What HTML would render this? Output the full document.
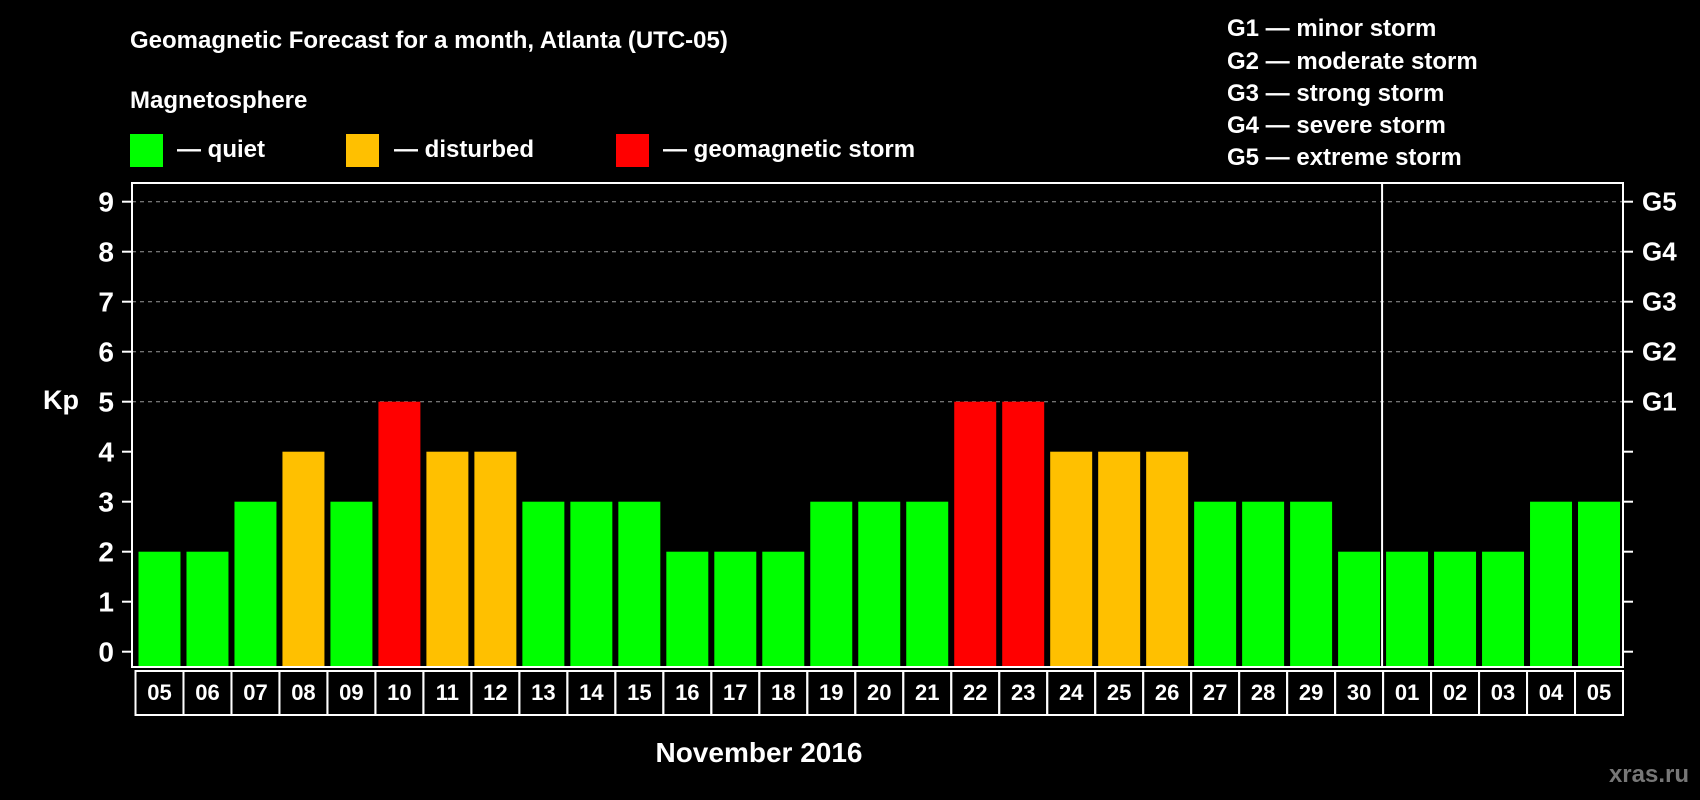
<!DOCTYPE html>
<html><head><meta charset="utf-8"><style>
html,body{margin:0;padding:0;background:#000;}
svg{display:block;font-family:"Liberation Sans",Arial,sans-serif;font-weight:bold;}
</style></head><body>
<svg id="chart" width="1700" height="800" viewBox="0 0 1700 800" xmlns="http://www.w3.org/2000/svg">
<rect width="1700" height="800" fill="#000"/>
<text x="130" y="48" fill="#fff" font-size="24">Geomagnetic Forecast for a month, Atlanta (UTC-05)</text>
<text x="130" y="108" fill="#fff" font-size="24">Magnetosphere</text>
<g><rect x="130" y="134" width="33" height="33" fill="#00ff00"/><text x="177" y="157" fill="#fff" font-size="24">— quiet</text></g>
<g><rect x="346" y="134" width="33" height="33" fill="#ffc000"/><text x="394" y="157" fill="#fff" font-size="24">— disturbed</text></g>
<g><rect x="616" y="134" width="33" height="33" fill="#ff0000"/><text x="663" y="157" fill="#fff" font-size="24">— geomagnetic storm</text></g>
<g fill="#fff" font-size="24">
<text x="1227" y="36">G1 — minor storm</text>
<text x="1227" y="69">G2 — moderate storm</text>
<text x="1227" y="101">G3 — strong storm</text>
<text x="1227" y="133">G4 — severe storm</text>
<text x="1227" y="165">G5 — extreme storm</text>
</g>
<text x="43" y="409" fill="#fff" font-size="27">Kp</text>
<text x="759" y="762" fill="#fff" font-size="28" text-anchor="middle">November 2016</text>
<text x="1689" y="782" fill="#777" font-size="24" text-anchor="end">xras.ru</text>
<g id="grid"></g><g id="bars"></g><g id="axes"></g>
</svg>
<script>
const days = ["05","06","07","08","09","10","11","12","13","14","15","16","17","18","19","20","21","22","23","24","25","26","27","28","29","30","01","02","03","04","05"];
const kp = [2,2,3,4,3,5,4,4,3,3,3,2,2,2,3,3,3,5,5,4,4,4,3,3,3,2,2,2,2,3,3];
const yTicks = [0,1,2,3,4,5,6,7,8,9];
const gLabels = [[5,"G1"],[6,"G2"],[7,"G3"],[8,"G4"],[9,"G5"]];
const monthBreak = 26;
const NS="http://www.w3.org/2000/svg";
const L=132,R=1623,T=183,B=667,cell0=135.5,pitch=(R-cell0)/days.length;
const y=v=>651.7-v*50;
const x=i=>cell0+i*pitch;
function mk(p,t,a){const e=document.createElementNS(NS,t);for(const k in a)e.setAttribute(k,a[k]);p.appendChild(e);return e;}
const grid=document.getElementById('grid'),bars=document.getElementById('bars'),axes=document.getElementById('axes');
yTicks.forEach(v=>{
 if(v>=5){const g=mk(grid,'line',{x1:L,x2:R,y1:y(v),y2:y(v),stroke:'#999','stroke-width':1,'stroke-dasharray':'4 4'});
 
 }
 mk(axes,'line',{x1:122,x2:L,y1:y(v),y2:y(v),stroke:'#fff','stroke-width':2});
 mk(axes,'line',{x1:R,x2:R+10,y1:y(v),y2:y(v),stroke:'#fff','stroke-width':2});
 const t=mk(axes,'text',{x:114,y:y(v)+10,fill:'#fff','font-size':28,'text-anchor':'end'});t.textContent=v;
 
 
});
gLabels.forEach(([v,l])=>{const t=mk(axes,'text',{x:1642,y:y(v)+9,fill:'#fff','font-size':26});t.textContent=l;
 
 });
kp.forEach((v,i)=>{
 const c=v>=5?'#ff0000':(v>=4?'#ffc000':'#00ff00');
 const r=mk(bars,'rect',{x:x(i)+3,y:y(v),width:pitch-6,height:B-y(v),fill:c});
 
 
 mk(axes,'rect',{x:x(i),y:671,width:pitch,height:44,fill:'none',stroke:'#fff','stroke-width':2});
 const t=mk(axes,'text',{x:x(i)+pitch/2,y:700,fill:'#fff','font-size':22,'text-anchor':'middle'});t.textContent=days[i];
 
 
});
const f=mk(axes,'rect',{x:L,y:T,width:R-L,height:B-T,fill:'none',stroke:'#fff','stroke-width':2});


const s=mk(axes,'line',{x1:x(monthBreak)-1,x2:x(monthBreak)-1,y1:T,y2:B,stroke:'#fff','stroke-width':2});


</script>
</body></html>
